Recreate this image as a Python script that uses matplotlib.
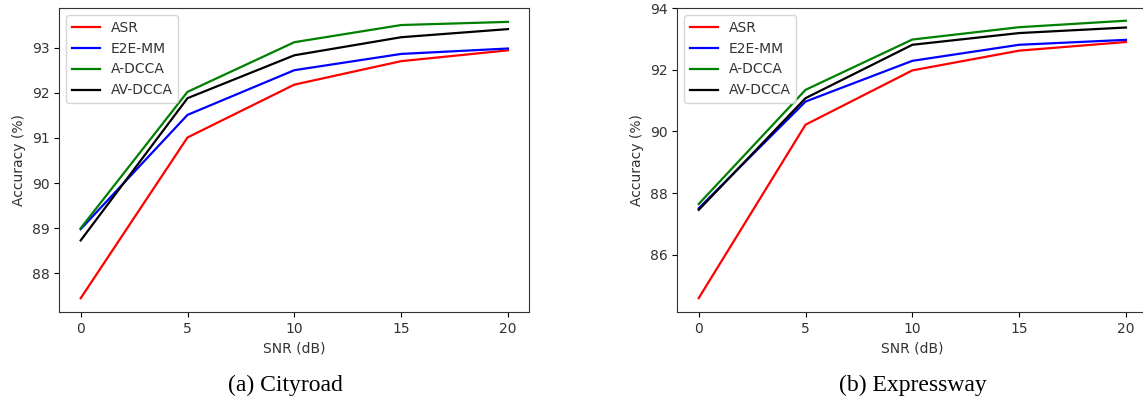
import matplotlib
matplotlib.use("Agg")
import matplotlib.pyplot as plt

# SNR levels (dB)
snr = [0, 5, 10, 15, 20]

# Cityroad accuracy (%)
city_asr = [87.45, 91.01, 92.18, 92.70, 92.94]
city_e2e = [88.98, 91.51, 92.50, 92.86, 92.98]
city_adcca = [89.00, 92.02, 93.12, 93.50, 93.57]
city_avdcca = [88.73, 91.88, 92.83, 93.23, 93.41]

# Expressway accuracy (%)
exp_asr = [84.60, 90.22, 91.98, 92.62, 92.90]
exp_e2e = [87.51, 90.97, 92.29, 92.81, 92.97]
exp_adcca = [87.65, 91.35, 92.98, 93.38, 93.59]
exp_avdcca = [87.46, 91.08, 92.81, 93.19, 93.37]

labels = ["ASR", "E2E-MM", "A-DCCA", "AV-DCCA"]
colors = ["r", "b", "g", "k"]
captions = ["(a) Cityroad", "(b) Expressway"]

plt.rcParams["font.size"] = 10
plt.rcParams["text.color"] = "#333333"
plt.rcParams["axes.labelcolor"] = "#333333"
plt.rcParams["xtick.labelcolor"] = "#333333"
plt.rcParams["ytick.labelcolor"] = "#333333"
plt.rcParams["axes.edgecolor"] = "#333333"

fig = plt.figure(figsize=(11.43, 4.01), dpi=100)
ax1 = fig.add_axes([0.0519, 0.2219, 0.4112, 0.758])
ax2 = fig.add_axes([0.5926, 0.2219, 0.4112, 0.758])

panels = [
    (ax1, [city_asr, city_e2e, city_adcca, city_avdcca]),
    (ax2, [exp_asr, exp_e2e, exp_adcca, exp_avdcca]),
]

for ax, series in panels:
    for vals, lab, c in zip(series, labels, colors):
        ax.plot(snr, vals, color=c, label=lab, linewidth=1.6)
    ax.set_xticks([0, 5, 10, 15, 20])
    ax.set_xlabel("SNR (dB)")
    ax.set_ylabel("Accuracy (%)")
    ax.legend(loc="upper left")

ax2.set_ylim(84.15, 94.0)
ax2.set_yticks([86, 88, 90, 92, 94])

fig.text(0.250, 1 - 385 / 401, captions[0], ha="center", va="center",
         family="Liberation Serif", fontsize=17, color="black")
fig.text(0.799, 1 - 385 / 401, captions[1], ha="center", va="center",
         family="Liberation Serif", fontsize=17, color="black")

fig.savefig("out.png", dpi=100)
